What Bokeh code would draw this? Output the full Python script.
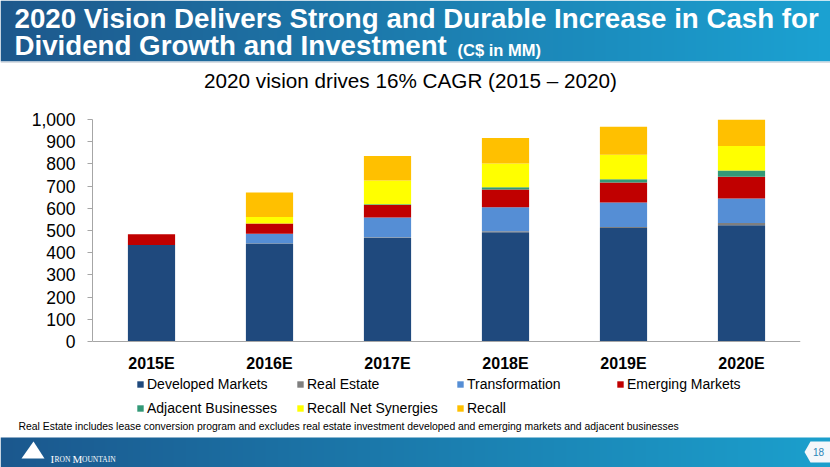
import numpy as np
from bokeh.plotting import figure
from bokeh.layouts import column
from bokeh.models import Range1d, FactorRange, FixedTicker, NumeralTickFormatter, Legend, LegendItem
from bokeh.core.properties import value
from bokeh.embed import file_html
from bokeh.resources import INLINE

# ---------------- data ----------------
years = ["2015E", "2016E", "2017E", "2018E", "2019E", "2020E"]
developed = [435, 441, 467, 492, 511, 524]
real_estate = [0, 2, 3, 5, 5, 10]
transformation = [0, 42, 88, 108, 110, 110]
emerging = [48, 46, 57, 80, 90, 98]
adjacent = [0, 0, 3, 10, 15, 28]
recall_syn = [0, 30, 107, 107, 110, 111]
recall = [0, 110, 111, 115, 126, 119]
series_names = ["Developed Markets", "Real Estate", "Transformation", "Emerging Markets",
                "Adjacent Businesses", "Recall Net Synergies", "Recall"]
series_colors = ["#1f497d", "#7f7f7f", "#558ed5", "#c00000", "#339977", "#ffff00", "#ffc000"]
y_ticks = [0, 100, 200, 300, 400, 500, 600, 700, 800, 900, 1000]

title_line1 = "2020 Vision Delivers Strong and Durable Increase in Cash for"
title_line2 = "Dividend Growth and Investment"
title_unit = "(C$ in MM)"
subtitle = "2020 vision drives 16% CAGR (2015 \u2013 2020)"
footnote = ("Real Estate includes lease conversion program and excludes real estate investment "
            "developed and emerging markets and adjacent businesses")

FONT = value("Liberation Sans")
W = 830


def gradient(w, h, c1, c2):
    img = np.zeros((h, w), dtype=np.uint32)
    v = img.view(dtype=np.uint8).reshape((h, w, 4))
    t = np.linspace(0, 1, w)
    for k in range(3):
        v[:, :, k] = (c1[k] + (c2[k] - c1[k]) * t).astype(np.uint8)[None, :]
    v[:, :, 3] = 255
    return img


def deco_fig(h):
    f = figure(width=W, height=h, x_range=Range1d(0, W), y_range=Range1d(h, 0),
               output_backend="svg", toolbar_location=None,
               x_axis_location=None, y_axis_location=None,
               min_border=0, min_border_left=0, min_border_right=0,
               min_border_top=0, min_border_bottom=0, frame_align=False)
    f.grid.visible = False
    f.outline_line_color = None
    f.background_fill_color = "white"
    f.border_fill_color = "white"
    return f


# ---------------- header ----------------
HH = 100
header = deco_fig(HH)
header.image_rgba(image=[gradient(W, 61, (30, 88, 140), (27, 162, 210))], x=0, y=0, dw=W, dh=61)
header.quad(left=[0], right=[W], top=[61], bottom=[62.5], fill_color="#d8dde3", line_color=None)
header.text(x=[14, 14], y=[18, 45], text=[title_line1, title_line2], text_font=FONT,
            text_font_style="bold", text_font_size="27.7px", text_color="white",
            text_baseline="middle", text_align="left")
header.text(x=[457], y=[49], text=[title_unit], text_font=FONT, text_font_style="bold",
            text_font_size="16.5px", text_color="white", text_baseline="middle")
header.text(x=[410], y=[80], text=[subtitle], text_font=FONT, text_font_size="20.7px",
            text_color="black", text_baseline="middle", text_align="center")

# ---------------- main chart ----------------
# frame spans from the 1,000 gridline down to the bottom of the legend area
MH = 318
y_start = -1000 * 77 / 222
p = figure(width=W, height=MH, x_range=FactorRange(*years), y_range=Range1d(y_start, 1000),
           output_backend="svg", toolbar_location=None, frame_align=False,
           min_border_left=92, min_border_right=30, min_border_top=19, min_border_bottom=0)
p.outline_line_color = None
p.grid.visible = False
p.background_fill_color = "white"
p.border_fill_color = "white"

src = dict(years=years, dm=developed, re=real_estate, tr=transformation, em=emerging,
           ab=adjacent, rs=recall_syn, rc=recall)
keys = ["dm", "re", "tr", "em", "ab", "rs", "rc"]
rends = p.vbar_stack(keys, x="years", width=0.4, source=src, color=series_colors,
                     line_color=None)

p.yaxis.ticker = FixedTicker(ticks=y_ticks)
p.yaxis.bounds = (0, 1000)
p.yaxis.formatter = NumeralTickFormatter(format="0,0")
p.yaxis.major_label_text_font = "Liberation Sans"
p.yaxis.major_label_text_font_size = "17.5px"
p.yaxis.major_label_text_color = "black"
p.yaxis.major_tick_out = 5
p.yaxis.major_tick_in = 0
p.yaxis.minor_tick_line_color = None
p.yaxis.axis_line_color = "#a6a6a6"
p.yaxis.major_tick_line_color = "#a6a6a6"
p.yaxis.major_label_standoff = 12

p.xaxis.fixed_location = 0
p.xaxis.major_label_text_font = "Liberation Sans"
p.xaxis.major_label_text_font_style = "bold"
p.xaxis.major_label_text_font_size = "16px"
p.xaxis.major_label_text_color = "black"
p.xaxis.axis_line_color = "#a6a6a6"
p.xaxis.major_tick_line_color = None
p.xaxis.major_label_standoff = 7

legend = Legend(items=[LegendItem(label=n, renderers=[r]) for n, r in zip(series_names, rends)],
                location=(44, 2), orientation="horizontal", ncols=4,
                glyph_width=8, glyph_height=8, label_standoff=3, label_width=142,
                label_height=17, spacing=7, padding=0, margin=0,
                label_text_font="Liberation Sans", label_text_font_size="14px",
                label_text_color="black", border_line_color=None,
                background_fill_alpha=0)
p.add_layout(legend, "center")

# ---------------- footer ----------------
FH = 49
footer = deco_fig(FH)
footer.text(x=[18], y=[8], text=[footnote], text_font=FONT, text_font_size="10.4px",
            text_color="black", text_baseline="middle")
footer.image_rgba(image=[gradient(W, 30, (27, 88, 142), (28, 160, 205))], x=0, y=19, dw=W, dh=30)
footer.patch(x=[21, 33, 44], y=[40, 23, 40], fill_color="white", line_color=None)
footer.text(x=[50, 72], y=[40.5, 40.5], text=["I", "M"], text_font=value("Liberation Serif"),
            text_font_size="11px", text_color="white", text_baseline="alphabetic")
footer.text(x=[54, 81.5], y=[40.5, 40.5], text=["RON", "OUNTAIN"], text_font=value("Liberation Serif"),
            text_font_size="7.5px", text_color="white", text_baseline="alphabetic")
footer.patch(x=[830, 810, 804, 810, 830], y=[23, 23, 33.5, 44, 44], fill_color="#f4f7fa",
             line_color=None)
footer.text(x=[818], y=[33.5], text=["18"], text_font=FONT, text_font_size="10px",
            text_color="#2b86b8", text_baseline="middle", text_align="center")

layout = column(header, p, footer, spacing=0)
open("out.html", "w").write(file_html(layout, INLINE))
